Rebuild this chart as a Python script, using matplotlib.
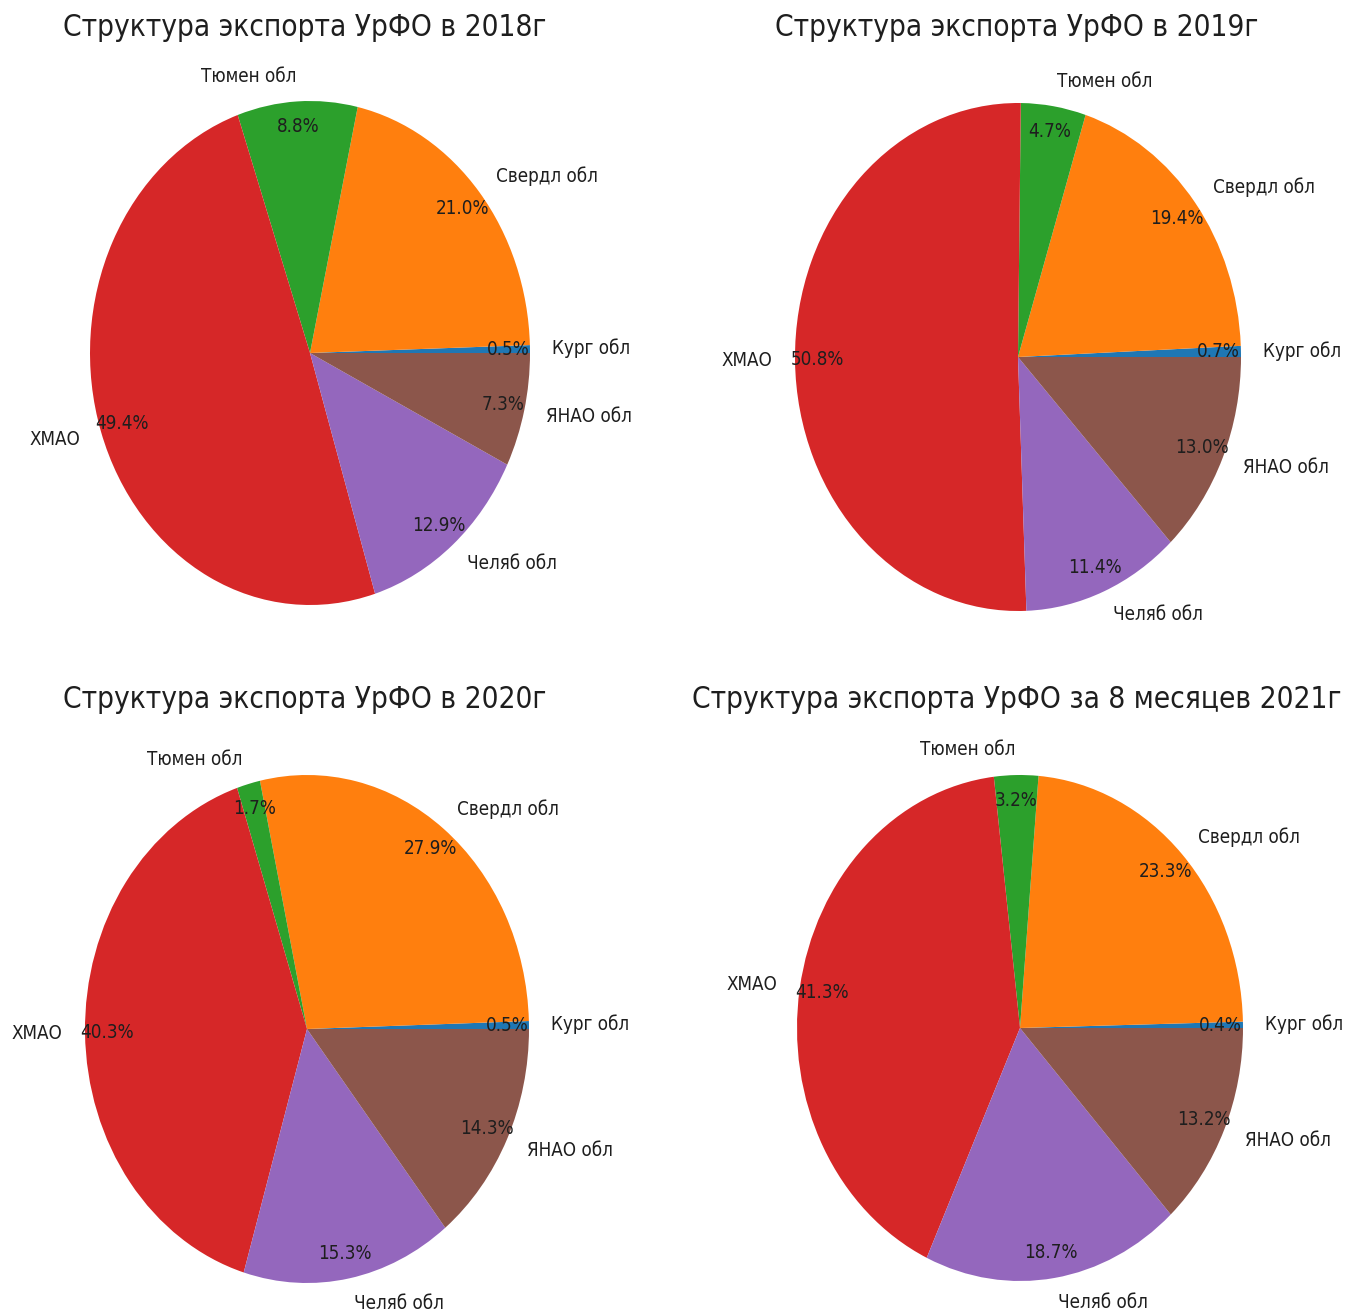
import matplotlib
matplotlib.use("Agg")
import matplotlib.pyplot as plt

labels = ["Кург обл", "Свердл обл", "Тюмен обл", "ХМАО", "Челяб обл", "ЯНАО обл"]
v2018 = [0.5, 21.0, 8.8, 49.4, 12.9, 7.3]
v2019 = [0.7, 19.4, 4.7, 50.8, 11.4, 13.0]
v2020 = [0.5, 27.9, 1.7, 40.3, 15.3, 14.3]
v2021 = [0.4, 23.3, 3.2, 41.3, 18.7, 13.2]
titles = ["Структура экспорта УрФО в 2018г", "Структура экспорта УрФО в 2019г",
          "Структура экспорта УрФО в 2020г", "Структура экспорта УрФО за 8 месяцев 2021г"]
colors = ["tab:blue", "tab:orange", "tab:green", "tab:red", "tab:purple", "tab:brown"]

W, H = 1346, 1310
fig = plt.figure(figsize=(W / 100, H / 100), dpi=100)

# (cx, cy, rx, ry) pixel geometry, title centre (tx, ty)
geo = [
    (310, 353, 220, 252, 305, 28),
    (1018, 357, 223, 254, 1017, 28),
    (307, 1029, 222, 254, 305, 700),
    (1020, 1028, 223, 253, 1017, 700),
]
data = [v2018, v2019, v2020, v2021]

for (cx, cy, rx, ry, tx, ty), vals, title in zip(geo, data, titles):
    w, h = 2.5 * rx, 2.5 * ry
    ax = fig.add_axes([(cx - w / 2) / W, (H - cy - h / 2) / H, w / W, h / H])
    wedges, texts, autotexts = ax.pie(vals, labels=labels, colors=colors,
                                      autopct="%1.1f%%", pctdistance=0.9,
                                      labeldistance=1.1,
                                      textprops=dict(fontsize=13.5, fontstretch="condensed",
                                                     color="#1e1e1e"))
    ax.set_aspect("auto")
    ax.set_xlim(-1.25, 1.25)
    ax.set_ylim(-1.25, 1.25)
    fig.text(tx / W, 1 - ty / H, title, ha="center", va="center", fontsize=21.3,
             fontstretch="condensed", color="#1e1e1e")

fig.savefig("out.png", dpi=100)
